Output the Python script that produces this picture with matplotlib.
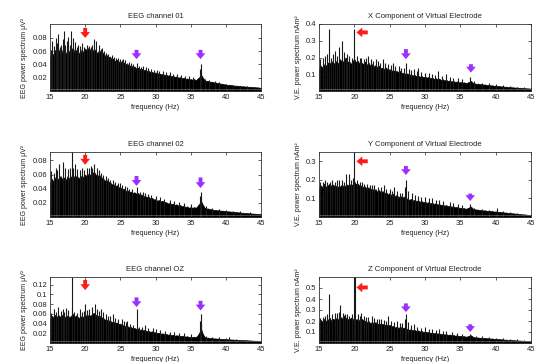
import numpy as np
import matplotlib
matplotlib.use("Agg")
import matplotlib.pyplot as plt

plt.rcParams['font.family'] = ['Liberation Sans', 'DejaVu Sans']

# frequency grid of the body (dense part) of each spectrum: 15..45 Hz every 0.25 Hz
freq = np.arange(15.0, 45.001, 0.25)

titles = ["EEG channel 01", "X Component of Virtual Electrode",
          "EEG channel 02", "Y Component of Virtual Electrode",
          "EEG channel OZ", "Z Component of Virtual Electrode"]
ylabels = ["EEG power spectrum \u03bcV\u00b2", "V.E. power spectrum nAm\u00b2"]
xlabel = "frequency (Hz)"
xticks = [15, 20, 25, 30, 35, 40, 45]

body_eeg01 = [0.050, 0.058, 0.054, 0.062, 0.056, 0.060, 0.066, 0.058, 0.062, 0.055, 0.064, 0.058, 0.060, 0.066, 0.057, 0.062, 0.059, 0.055, 0.063, 0.058,
              0.064, 0.060, 0.066, 0.061, 0.058, 0.064, 0.060, 0.057, 0.062, 0.055, 0.058, 0.053, 0.055, 0.050, 0.052, 0.048, 0.049, 0.045, 0.047, 0.044,
              0.045, 0.041, 0.043, 0.040, 0.041, 0.037, 0.039, 0.036, 0.037, 0.034, 0.035, 0.033, 0.034, 0.031, 0.032, 0.030, 0.031, 0.028, 0.029, 0.027,
              0.028, 0.026, 0.027, 0.025, 0.026, 0.024, 0.025, 0.023, 0.024, 0.022, 0.023, 0.021, 0.022, 0.020, 0.021, 0.019, 0.020, 0.018, 0.019, 0.017,
              0.018, 0.017, 0.018, 0.016, 0.019, 0.021, 0.024, 0.020, 0.016, 0.015, 0.015, 0.014, 0.014, 0.013, 0.013, 0.012, 0.012, 0.011, 0.011, 0.010,
              0.010, 0.009, 0.0095, 0.009, 0.0085, 0.008, 0.0082, 0.0075, 0.0078, 0.007, 0.0072, 0.0066, 0.0068, 0.0062, 0.0064, 0.0058, 0.006, 0.0055, 0.0056, 0.005, 0.0048]
body_x = [0.13, 0.15, 0.14, 0.16, 0.15, 0.17, 0.16, 0.18, 0.16, 0.17, 0.18, 0.16, 0.19, 0.17, 0.18, 0.20, 0.17, 0.18, 0.16, 0.18,
          0.19, 0.17, 0.18, 0.16, 0.17, 0.16, 0.175, 0.155, 0.17, 0.15, 0.16, 0.145, 0.155, 0.14, 0.15, 0.135, 0.14, 0.13, 0.14, 0.125,
          0.13, 0.12, 0.125, 0.115, 0.12, 0.11, 0.12, 0.105, 0.11, 0.10, 0.105, 0.095, 0.10, 0.092, 0.097, 0.088, 0.092, 0.085, 0.09, 0.082,
          0.086, 0.08, 0.084, 0.076, 0.08, 0.072, 0.077, 0.07, 0.074, 0.066, 0.07, 0.063, 0.066, 0.06, 0.063, 0.057, 0.06, 0.054, 0.057, 0.051,
          0.054, 0.049, 0.052, 0.047, 0.05, 0.055, 0.06, 0.05, 0.045, 0.043, 0.044, 0.04, 0.042, 0.038, 0.039, 0.035, 0.037, 0.033, 0.034, 0.031,
          0.032, 0.029, 0.03, 0.027, 0.028, 0.025, 0.026, 0.023, 0.024, 0.022, 0.022, 0.02, 0.021, 0.019, 0.019, 0.017, 0.018, 0.016, 0.016, 0.015, 0.014]
body_eeg02 = [0.048, 0.054, 0.050, 0.056, 0.052, 0.055, 0.058, 0.053, 0.056, 0.052, 0.058, 0.054, 0.057, 0.060, 0.055, 0.058, 0.056, 0.054, 0.059, 0.056,
              0.060, 0.057, 0.062, 0.059, 0.062, 0.064, 0.060, 0.058, 0.060, 0.055, 0.056, 0.051, 0.053, 0.049, 0.050, 0.046, 0.047, 0.043, 0.045, 0.042,
              0.042, 0.039, 0.040, 0.037, 0.038, 0.035, 0.036, 0.034, 0.035, 0.033, 0.034, 0.031, 0.032, 0.029, 0.030, 0.028, 0.029, 0.026, 0.027, 0.025,
              0.025, 0.023, 0.024, 0.022, 0.023, 0.021, 0.021, 0.019, 0.020, 0.018, 0.019, 0.017, 0.018, 0.016, 0.017, 0.015, 0.016, 0.014, 0.015, 0.013,
              0.014, 0.013, 0.014, 0.013, 0.016, 0.019, 0.022, 0.017, 0.013, 0.012, 0.012, 0.011, 0.011, 0.010, 0.010, 0.0095, 0.0095, 0.009, 0.009, 0.0085,
              0.0085, 0.008, 0.008, 0.0075, 0.0075, 0.007, 0.007, 0.0065, 0.0065, 0.006, 0.006, 0.0056, 0.0056, 0.0052, 0.0052, 0.0048, 0.0048, 0.0045, 0.0045, 0.0042, 0.004]
body_y = [0.15, 0.17, 0.16, 0.18, 0.16, 0.17, 0.18, 0.165, 0.175, 0.16, 0.17, 0.16, 0.165, 0.175, 0.16, 0.17, 0.175, 0.165, 0.18, 0.17,
          0.19, 0.175, 0.18, 0.165, 0.17, 0.16, 0.165, 0.15, 0.16, 0.145, 0.155, 0.14, 0.15, 0.135, 0.145, 0.13, 0.14, 0.125, 0.135, 0.12,
          0.13, 0.115, 0.125, 0.11, 0.12, 0.105, 0.115, 0.1, 0.11, 0.096, 0.1, 0.092, 0.097, 0.088, 0.093, 0.085, 0.09, 0.082, 0.086, 0.079,
          0.082, 0.076, 0.08, 0.073, 0.077, 0.07, 0.074, 0.067, 0.07, 0.064, 0.067, 0.061, 0.064, 0.058, 0.061, 0.055, 0.058, 0.052, 0.054, 0.049,
          0.05, 0.046, 0.048, 0.044, 0.047, 0.052, 0.056, 0.046, 0.042, 0.04, 0.04, 0.037, 0.038, 0.035, 0.036, 0.033, 0.034, 0.031, 0.032, 0.029,
          0.03, 0.028, 0.028, 0.026, 0.026, 0.024, 0.024, 0.022, 0.022, 0.02, 0.02, 0.018, 0.018, 0.016, 0.016, 0.014, 0.014, 0.013, 0.012, 0.011, 0.01]
body_oz = [0.050, 0.056, 0.052, 0.058, 0.054, 0.057, 0.053, 0.058, 0.055, 0.052, 0.057, 0.053, 0.056, 0.060, 0.054, 0.057, 0.053, 0.051, 0.056, 0.053,
           0.058, 0.055, 0.058, 0.056, 0.060, 0.062, 0.058, 0.055, 0.057, 0.052, 0.053, 0.048, 0.049, 0.045, 0.047, 0.043, 0.044, 0.041, 0.042, 0.039,
           0.040, 0.036, 0.037, 0.034, 0.035, 0.032, 0.033, 0.030, 0.031, 0.029, 0.030, 0.027, 0.028, 0.026, 0.027, 0.024, 0.025, 0.023, 0.024, 0.022,
           0.022, 0.020, 0.021, 0.019, 0.020, 0.018, 0.019, 0.017, 0.018, 0.016, 0.017, 0.015, 0.016, 0.015, 0.015, 0.014, 0.015, 0.013, 0.014, 0.012,
           0.013, 0.012, 0.013, 0.012, 0.016, 0.022, 0.028, 0.018, 0.012, 0.011, 0.011, 0.010, 0.010, 0.0095, 0.0095, 0.009, 0.009, 0.0085, 0.0085, 0.008,
           0.008, 0.0075, 0.0078, 0.007, 0.0072, 0.0066, 0.0068, 0.0062, 0.0064, 0.0058, 0.006, 0.0055, 0.0056, 0.0052, 0.0052, 0.0048, 0.0048, 0.0045, 0.0045, 0.0042, 0.004]
body_z = [0.18, 0.21, 0.19, 0.22, 0.2, 0.21, 0.23, 0.2, 0.22, 0.21, 0.23, 0.21, 0.24, 0.22, 0.25, 0.23, 0.22, 0.21, 0.23, 0.21,
          0.23, 0.21, 0.22, 0.2, 0.22, 0.21, 0.2, 0.19, 0.2, 0.18, 0.19, 0.18, 0.19, 0.17, 0.18, 0.165, 0.175, 0.16, 0.17, 0.155,
          0.165, 0.15, 0.155, 0.14, 0.15, 0.135, 0.15, 0.13, 0.14, 0.125, 0.13, 0.12, 0.125, 0.115, 0.12, 0.11, 0.115, 0.105, 0.11, 0.1,
          0.105, 0.097, 0.1, 0.092, 0.095, 0.088, 0.092, 0.085, 0.088, 0.08, 0.084, 0.077, 0.08, 0.073, 0.077, 0.07, 0.073, 0.066, 0.07, 0.063,
          0.065, 0.06, 0.063, 0.057, 0.06, 0.066, 0.07, 0.058, 0.052, 0.05, 0.05, 0.047, 0.048, 0.045, 0.046, 0.043, 0.043, 0.04, 0.041, 0.038,
          0.038, 0.035, 0.036, 0.033, 0.033, 0.03, 0.031, 0.028, 0.028, 0.026, 0.026, 0.024, 0.024, 0.022, 0.022, 0.02, 0.02, 0.018, 0.018, 0.016, 0.015]

# spikes rising above the body: (frequency Hz, height)
spikes_eeg01 = [(15.1, .062), (15.3, .075), (15.5, .068), (15.8, .080), (16.0, .072), (16.2, .086), (16.4, .066), (16.6, .070),
                (16.8, .078), (17.0, .090), (17.2, .070), (17.4, .075), (17.6, .082), (17.8, .070), (18.0, .090), (18.3, .080),
                (18.6, .074), (18.8, .066), (19.0, .070), (19.3, .068), (19.6, .072), (19.8, .066), (20.2, .070), (20.5, .068),
                (20.8, .066), (21.0, .070), (21.2, .078), (21.6, .075), (21.9, .070), (22.2, .064), (22.4, .065), (22.7, .060),
                (23.0, .058), (23.3, .056), (23.5, .052), (23.8, .055), (24.1, .052), (24.4, .050), (24.6, .050), (24.9, .048),
                (25.2, .046), (25.4, .048), (25.7, .046), (26.0, .042), (26.2, .044), (26.5, .042), (26.8, .040), (27.3, .042),
                (27.6, .038), (28.0, .036), (28.2, .038), (28.6, .036), (29.0, .034), (29.4, .033), (29.8, .032), (30.2, .031),
                (30.5, .030), (31.0, .030), (31.5, .028), (32.0, .028), (32.5, .026), (33.0, .026), (33.6, .024), (34.2, .023),
                (34.8, .022), (35.4, .021), (36.3, .033), (36.4, .040), (36.5, .030), (37.0, .018), (37.6, .016), (38.4, .015),
                (39.0, .013), (40.0, .011), (41.0, .009), (42.0, .008), (43.0, .007), (44.0, .006)]
spikes_x = [(15.2, .19), (15.5, .20), (15.8, .21), (16.1, .22), (16.4, .37), (16.7, .20), (17.0, .22), (17.2, .24),
            (17.5, .21), (17.8, .26), (18.2, .30), (18.5, .23), (18.8, .20), (19.0, .22), (19.3, .21), (19.6, .20),
            (19.95, .37), (20.4, .21), (20.8, .20), (21.0, .20), (21.4, .19), (21.7, .20), (22.0, .21), (22.4, .19),
            (22.7, .18), (23.0, .19), (23.3, .18), (23.6, .17), (24.0, .19), (24.4, .17), (24.8, .16), (25.2, .155),
            (25.5, .17), (25.8, .15), (26.3, .15), (26.6, .14), (27.0, .14), (27.3, .17), (27.7, .13), (28.0, .125),
            (28.4, .13), (28.8, .12), (29.0, .14), (29.5, .115), (30.0, .11), (30.5, .11), (31.0, .10), (31.4, .095),
            (31.8, .12), (32.4, .09), (33.0, .10), (33.5, .085), (34.0, .08), (34.6, .075), (35.2, .07), (36.4, .085),
            (37.0, .06), (38.0, .05), (39.0, .045), (40.0, .04), (41.0, .035), (42.0, .03), (43.0, .025), (44.0, .022)]
spikes_eeg02 = [(15.2, .065), (15.5, .062), (15.8, .070), (16.0, .066), (16.3, .075), (16.8, .078), (17.2, .070), (17.5, .068),
                (17.8, .070), (18.1, .092), (18.3, .070), (18.6, .075), (18.9, .068), (19.2, .066), (19.5, .070), (19.8, .066),
                (20.2, .070), (20.5, .070), (20.8, .072), (21.0, .070), (21.3, .075), (21.7, .070), (22.0, .066), (22.3, .062),
                (22.6, .060), (23.0, .058), (23.3, .055), (23.6, .053), (24.0, .052), (24.3, .050), (24.6, .048), (25.0, .048),
                (25.3, .046), (25.6, .044), (26.0, .042), (26.3, .040), (26.7, .040), (27.3, .042), (27.8, .036), (28.2, .035),
                (28.5, .034), (28.9, .033), (29.4, .031), (30.0, .030), (30.6, .028), (31.2, .026), (32.0, .024), (32.6, .022),
                (33.4, .021), (34.0, .020), (35.0, .018), (36.3, .030), (36.4, .036), (36.5, .028), (37.2, .015), (38.0, .013),
                (39.0, .011), (40.0, .010), (41.0, .009), (42.0, .008), (43.5, .007)]
spikes_y = [(15.2, .19), (15.5, .19), (15.8, .20), (16.2, .19), (16.5, .19), (16.8, .20), (17.2, .19), (17.5, .20),
            (17.8, .20), (18.2, .20), (18.5, .19), (18.8, .23), (19.2, .23), (19.5, .20), (19.8, .21), (20.0, .35),
            (20.4, .20), (20.8, .19), (21.1, .19), (21.4, .18), (21.8, .18), (22.2, .17), (22.5, .17), (22.8, .17),
            (23.4, .16), (23.8, .16), (24.2, .17), (24.5, .15), (25.0, .15), (25.3, .14), (25.6, .16), (26.0, .14),
            (26.5, .13), (26.8, .13), (27.2, .16), (27.3, .20), (27.6, .14), (28.2, .13), (28.6, .12), (29.0, .115),
            (29.5, .11), (30.0, .11), (30.5, .10), (31.0, .10), (31.5, .09), (32.0, .09), (32.6, .085), (33.5, .08),
            (34.0, .075), (34.6, .07), (35.2, .065), (36.4, .07), (37.0, .05), (38.0, .045), (39.0, .04), (40.2, .05),
            (41.0, .033), (42.0, .028), (43.0, .022), (44.0, .018)]
spikes_oz = [(15.2, .062), (15.5, .070), (15.8, .064), (16.2, .075), (16.5, .066), (16.8, .070), (17.0, .064), (17.3, .072),
             (17.6, .068), (18.1, .135), (18.4, .064), (18.8, .062), (19.2, .070), (19.5, .064), (19.8, .066), (20.0, .080),
             (20.3, .068), (20.6, .070), (21.0, .075), (21.4, .080), (21.7, .070), (22.0, .066), (22.3, .070), (22.6, .064),
             (23.0, .060), (23.3, .056), (23.6, .055), (24.0, .060), (24.3, .052), (24.6, .050), (25.2, .050), (25.5, .046),
             (25.8, .044), (26.0, .045), (26.4, .040), (26.8, .038), (27.3, .070), (27.7, .034), (28.1, .034), (28.5, .038),
             (29.0, .031), (29.6, .030), (30.0, .028), (30.6, .027), (31.3, .025), (32.0, .023), (32.7, .022), (33.3, .021),
             (34.0, .020), (35.0, .018), (36.3, .045), (36.4, .060), (36.5, .040), (37.2, .015), (38.0, .013), (39.0, .012),
             (40.0, .011), (40.5, .012), (41.5, .009), (43.0, .007)]
spikes_z = [(15.2, .23), (15.5, .24), (15.8, .25), (16.1, .26), (16.4, .45), (16.8, .26), (17.2, .27), (17.5, .27),
            (17.8, .28), (18.0, .35), (18.4, .27), (18.7, .26), (19.0, .26), (19.3, .25), (19.6, .26), (19.95, .60),
            (20.1, .60), (20.5, .26), (20.8, .25), (21.0, .27), (21.4, .25), (21.7, .24), (22.0, .24), (22.5, .25),
            (22.8, .23), (23.2, .22), (23.5, .22), (23.8, .22), (24.2, .21), (24.5, .20), (24.8, .25), (25.2, .20),
            (25.6, .19), (26.0, .20), (26.4, .18), (26.8, .18), (27.1, .22), (27.3, .26), (27.6, .19), (28.0, .16),
            (28.5, .17), (28.8, .15), (29.4, .14), (30.0, .15), (30.5, .13), (31.0, .13), (31.5, .12), (32.0, .13),
            (32.5, .11), (33.0, .11), (33.8, .10), (34.5, .095), (35.2, .085), (36.4, .08), (37.2, .065), (38.0, .06),
            (39.0, .055), (40.0, .05), (41.0, .045), (42.0, .04), (43.0, .035), (44.0, .03)]

bodies = [body_eeg01, body_x, body_eeg02, body_y, body_oz, body_z]
spikes = [spikes_eeg01, spikes_x, spikes_eeg02, spikes_y, spikes_oz, spikes_z]
ylims = [0.101, 0.40, 0.092, 0.35, 0.136, 0.60]
yticks = [[0.02, 0.04, 0.06, 0.08], [0.1, 0.2, 0.3, 0.4], [0.02, 0.04, 0.06, 0.08],
          [0.1, 0.2, 0.3], [0.02, 0.04, 0.06, 0.08, 0.1, 0.12], [0.1, 0.2, 0.3, 0.4, 0.5]]
ytlabels = [["0.02", "0.04", "0.06", "0.08"], ["0.1", "0.2", "0.3", "0.4"],
            ["0.02", "0.04", "0.06", "0.08"], ["0.1", "0.2", "0.3"],
            ["0.02", "0.04", "0.06", "0.08", "0.1", "0.12"], ["0.1", "0.2", "0.3", "0.4", "0.5"]]

# arrows: down arrows (x, y_tail, y_tip); left arrows (x_tail, x_tip, y)
red_down = {0: (20.0, 0.095, 0.080), 2: (20.0, 0.088, 0.074), 4: (20.0, 0.130, 0.109)}
red_left = {1: (21.9, 20.3, 0.35), 3: (21.9, 20.3, 0.30), 5: (21.9, 20.3, 0.505)}
purple_down = {0: [(27.3, 0.062, 0.048), (36.4, 0.062, 0.048)],
               1: [(27.3, 0.25, 0.19), (36.5, 0.16, 0.11)],
               2: [(27.3, 0.058, 0.044), (36.4, 0.056, 0.041)],
               3: [(27.3, 0.275, 0.226), (36.4, 0.126, 0.086)],
               4: [(27.3, 0.094, 0.074), (36.4, 0.087, 0.067)],
               5: [(27.3, 0.36, 0.28), (36.4, 0.17, 0.10)]}

RED = '#ff1a1a'
PURPLE = '#9b30ff'

fig = plt.figure(figsize=(5.51, 3.62), dpi=100)
W, H = 551.0, 362.0
cols = [(50, 261), (319, 531)]
rows = [(24, 91), (152, 217), (277, 343)]

arrow_style = 'simple,head_width=1.0,head_length=0.6,tail_width=0.4'


def arrow(ax, xy, xytext, color):
    ax.annotate('', xy=xy, xytext=xytext,
                arrowprops=dict(arrowstyle=arrow_style, color=color, lw=0,
                                shrinkA=0, shrinkB=0, mutation_scale=7),
                annotation_clip=False)


for i in range(6):
    r, c = divmod(i, 2)
    x0, x1 = cols[c]
    y0, y1 = rows[r]
    ax = fig.add_axes([x0 / W, 1 - y1 / H, (x1 - x0) / W, (y1 - y0) / H])
    b = np.array(bodies[i])
    ax.fill_between(freq, 0, b, color='black', lw=0.5, edgecolor='black')
    sf = [p[0] for p in spikes[i]]
    sh = [p[1] for p in spikes[i]]
    ax.vlines(sf, 0, sh, color='#1a1a1a', lw=0.8)
    ax.axhline(ylims[i] * 0.025, color='white', lw=0.4, alpha=0.5)
    ax.set_xlim(15, 45)
    ax.set_ylim(0, ylims[i])
    ax.set_xticks(xticks)
    ax.set_yticks(yticks[i])
    ax.set_yticklabels(ytlabels[i])
    ax.tick_params(direction='in', length=2, width=0.5, labelsize=5.5, pad=2,
                   top=True, right=True, colors='#222222')
    for s in ax.spines.values():
        s.set_linewidth(0.6)
        s.set_color('#333333')
    ax.set_title(titles[i], fontsize=5.5, pad=4, color='#222222')
    ax.set_xlabel(xlabel, fontsize=5.3, labelpad=2, color='#222222')
    ax.set_ylabel(ylabels[c], fontsize=5, labelpad=3, color='#222222')
    if i in red_down:
        x, yt, yp = red_down[i]
        arrow(ax, (x, yp), (x, yt), RED)
    if i in red_left:
        xt, xp, y = red_left[i]
        arrow(ax, (xp, y), (xt, y), RED)
    for (x, yt, yp) in purple_down[i]:
        arrow(ax, (x, yp), (x, yt), PURPLE)

fig.savefig('out.png', dpi=100, facecolor='white')
